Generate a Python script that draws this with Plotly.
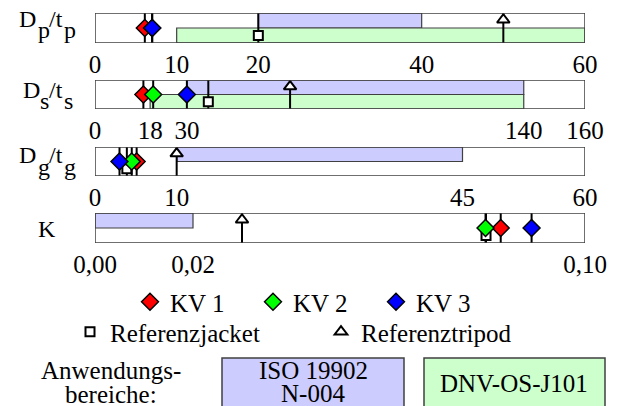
import plotly.graph_objects as go

W, H = 618, 406
FONT = "'Liberation Serif', 'Times New Roman', Times, serif"

# ---- data -------------------------------------------------------------
panel_names = ["Dp/tp", "Ds/ts", "Dg/tg", "K"]
axis_max = [60, 160, 60, 0.10]
tick_vals = [[0, 10, 20, 40, 60],
             [0, 18, 30, 140, 160],
             [0, 10, 45, 60],
             [0.0, 0.02, 0.10]]
tick_text = [["0", "10", "20", "40", "60"],
             ["0", "18", "30", "140", "160"],
             ["0", "10", "45", "60"],
             ["0,00", "0,02", "0,10"]]

# validity ranges of the two standards (ISO upper half, DNV lower half)
iso_range = [(20, 40), (30, 140), (10, 45), (0.0, 0.02)]
dnv_range = [(10, 60), (18, 140), None, None]

kv1 = [6.1, 15.8, 5.1, 0.0828]
kv2 = [7.0, 19.0, 4.5, 0.0797]
kv3 = [7.0, 30.0, 3.0, 0.0891]
ref_jacket = [20.0, 37.0, 3.9, 0.0798]
ref_tripod = [50.0, 63.7, 10.0, 0.030]

# ---- layout geometry (pixels) ----------------------------------------
panel_top = [13, 80, 147, 213]
panel_bot = [43, 109, 176, 243]
x_dom = [95 / W, 585 / W]

ISO_FILL = "#ccccff"
DNV_FILL = "#ccffcc"
EDGE = "#404040"


def py(p):
    return 1 - p / H


series = [
    ("Referenzjacket", ref_jacket,
     dict(symbol="square", size=9, color="white", line=dict(color="black", width=2)), 0.5, "legend2"),
    ("Referenztripod", ref_tripod,
     dict(symbol="triangle-up", size=11, color="white", line=dict(color="black", width=2)), 1.55, "legend2"),
    ("KV 1", kv1, dict(symbol="diamond", size=13, color="#ff0000", line=dict(color="black", width=1.5)), 1.0, "legend"),
    ("KV 2", kv2, dict(symbol="diamond", size=13, color="#00ff00", line=dict(color="black", width=1.5)), 1.0, "legend"),
    ("KV 3", kv3, dict(symbol="diamond", size=13, color="#0000ff", line=dict(color="black", width=1.5)), 1.0, "legend"),
]

fig = go.Figure()
shapes = []
layout_axes = {}

for i in range(4):
    sfx = "" if i == 0 else str(i + 1)
    xa, ya = "x" + sfx, "y" + sfx

    # vertical stems through each marker
    sx, sy = [], []
    for _, vals, _, _, _ in series:
        sx += [vals[i], vals[i], None]
        sy += [0, 2, None]
    fig.add_trace(go.Scatter(x=sx, y=sy, mode="lines", xaxis=xa, yaxis=ya,
                             line=dict(color="black", width=2),
                             showlegend=False, hoverinfo="skip"))

    for name, vals, marker, ypos, leg in series:
        fig.add_trace(go.Scatter(x=[vals[i]], y=[ypos], mode="markers", name=name,
                                 xaxis=xa, yaxis=ya, marker=marker,
                                 legendgroup=name, legend=leg,
                                 showlegend=(i == 0), hoverinfo="skip"))

    # coloured validity bands
    lo, hi = iso_range[i]
    shapes.append(dict(type="rect", xref=xa, yref=ya, x0=lo, x1=hi, y0=1, y1=2,
                       fillcolor=ISO_FILL, line=dict(color=EDGE, width=1.2), layer="below"))
    if dnv_range[i] is not None:
        lo, hi = dnv_range[i]
        shapes.append(dict(type="rect", xref=xa, yref=ya, x0=lo, x1=hi, y0=0, y1=1,
                           fillcolor=DNV_FILL, line=dict(color=EDGE, width=1.2), layer="below"))
    # panel frame
    shapes.append(dict(type="rect", xref=xa, yref=ya, x0=0, x1=axis_max[i], y0=0, y1=2,
                       line=dict(color=EDGE, width=1.5), layer="above"))

    layout_axes["xaxis" + sfx] = dict(
        domain=x_dom, anchor=ya, range=[0, axis_max[i]],
        tickmode="array", tickvals=tick_vals[i], ticktext=tick_text[i],
        tickfont=dict(family=FONT, size=25, color="black"),
        ticks="", ticklabelstandoff=4, showgrid=False, zeroline=False, showline=False,
        automargin=False, fixedrange=True)
    layout_axes["yaxis" + sfx] = dict(
        domain=[py(panel_bot[i]), py(panel_top[i])], anchor=xa, range=[0, 2],
        visible=False, fixedrange=True)

# row labels with full-size subscripts: (text, left px, baseline px)
label_pieces = [
    [("D", 18, 27), ("p", 37, 38), ("/t", 48, 27), ("p", 63, 38)],
    [("D", 22, 98), ("s", 39, 109), ("/t", 48, 98), ("s", 63, 109)],
    [("D", 18, 163), ("g", 37, 175), ("/t", 48, 163), ("g", 63, 175)],
    [("K", 37, 237)],
]
LBL = 24
annotations = []
for pieces in label_pieces:
    for txt, x0, base in pieces:
        annotations.append(dict(text=txt, xref="paper", yref="paper", x=x0 / W,
                                y=py(base - 0.338 * LBL), xanchor="left", yanchor="middle",
                                showarrow=False, borderpad=0,
                                font=dict(family=FONT, size=LBL, color="black")))

# application range key
TXT = dict(family=FONT, size=25, color="black")
shapes.append(dict(type="rect", xref="paper", yref="paper", x0=222 / W, x1=404 / W,
                   y0=-0.05, y1=py(358), fillcolor=ISO_FILL, line=dict(color=EDGE, width=1.5)))
shapes.append(dict(type="rect", xref="paper", yref="paper", x0=424 / W, x1=605 / W,
                   y0=-0.05, y1=py(358), fillcolor=DNV_FILL, line=dict(color=EDGE, width=1.5)))
for txt, cx, cy in [("Anwendungs-", 111, 370), ("bereiche:", 111, 394),
                    ("ISO 19902", 313, 370), ("N-004", 313, 393),
                    ("DNV-OS-J101", 514, 383)]:
    annotations.append(dict(text=txt, xref="paper", yref="paper", x=cx / W, y=py(cy),
                            xanchor="center", yanchor="middle", showarrow=False,
                            borderpad=0, font=TXT))

fig.update_layout(
    width=W, height=H,
    margin=dict(l=0, r=0, t=0, b=0),
    paper_bgcolor="white", plot_bgcolor="white",
    font=dict(family=FONT, color="black"),
    shapes=shapes, annotations=annotations,
    legend=dict(orientation="h", x=130 / W, xanchor="left", y=py(302), yanchor="middle",
                entrywidth=78, font=TXT, bgcolor="rgba(0,0,0,0)", borderwidth=0,
                itemclick=False, itemdoubleclick=False),
    legend2=dict(orientation="h", x=70 / W, xanchor="left", y=py(332), yanchor="middle",
                 entrywidth=206, font=TXT, bgcolor="rgba(0,0,0,0)", borderwidth=0,
                 itemclick=False, itemdoubleclick=False),
    **layout_axes,
)

fig.write_html("out.html", config={"displayModeBar": False})
